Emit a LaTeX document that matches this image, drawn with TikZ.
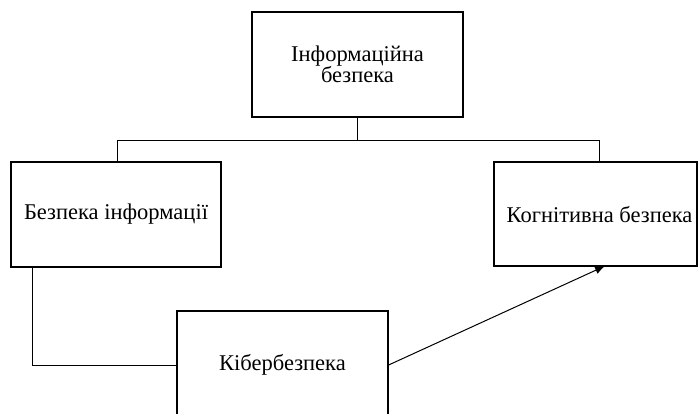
\documentclass[tikz,border=0pt]{standalone}
\usepackage{fontspec}
\setmainfont{Liberation Serif}
\usetikzlibrary{arrows.meta}
\begin{document}
\begin{tikzpicture}[x=1pt,y=-1pt,
  txt/.style={font=\fontsize{22.5}{21}\selectfont},
  box/.style={draw=black,line width=1.2pt,inner sep=0pt,align=center,txt},
  conn/.style={draw=black,line width=1pt}]
\clip (0,0) rectangle (698,413);
\useasboundingbox (0,0) rectangle (698,413);
\node[box,minimum width=211,minimum height=105] (top) at (357.5,64.5) {Інформаційна\\безпека};
\node[box,minimum width=210,minimum height=105] (left) at (116,214.5) {Безпека інформації};
\node[box,minimum width=203,minimum height=104] (right) at (595.5,214) {};
\node[txt,inner sep=0pt] (rtext) at (599.5,215) {Когнітивна безпека};
\node[box,minimum width=211,minimum height=108] (cyber) at (282.5,365) {Кібербезпека};
\coordinate (hl) at (117,140);
\coordinate (hr) at (599,140);
\coordinate (lb) at (32,267);
\coordinate (tip) at (605,266);
\draw[conn] (top.south) -- (top.south|-hl);
\draw[conn] (left.north-|hl) -- (hl) -- (hr) -- (right.north-|hr);
\draw[conn] (lb) |- (cyber.west);
\draw[conn,-{Latex[length=10pt,width=8pt]}] (cyber.east) -- (tip);
\end{tikzpicture}
\end{document}
